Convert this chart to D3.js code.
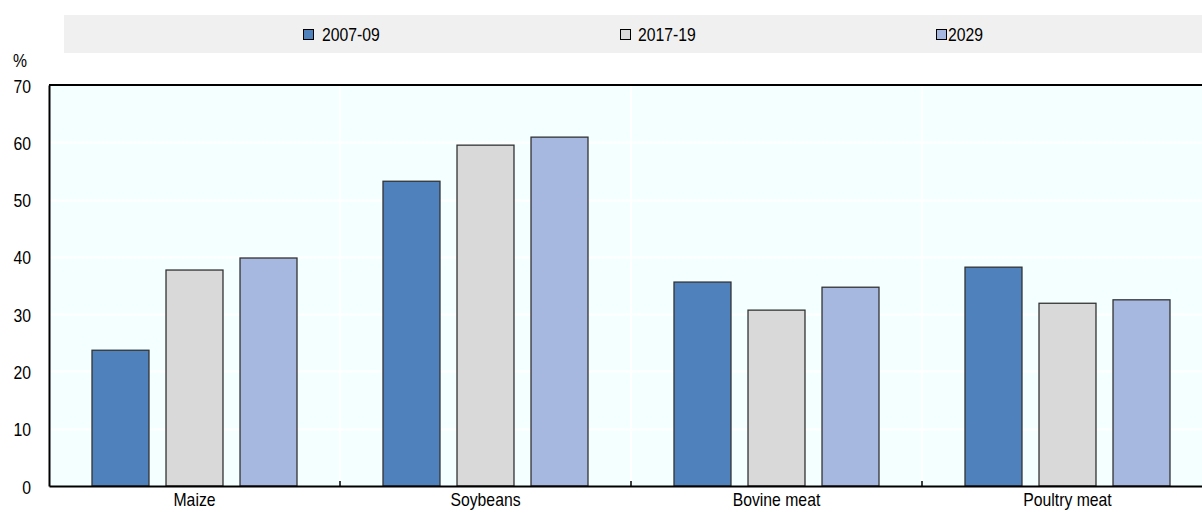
<!DOCTYPE html>
<html lang="en">
<head>
  <meta charset="UTF-8">
  <title>Shares by commodity</title>
  <script src="https://d3js.org/d3.v7.min.js"></script>
  <style>
    body { margin: 0; background: #fff; }
    text { font-family: "Liberation Sans", Arial, sans-serif; fill: #000; font-size: 19px; }
  </style>
</head>
<body>
<div id="chart"></div>
<script>
  // Data
  const categories = ['Maize', 'Soybeans', 'Bovine meat', 'Poultry meat'];
  const seriesNames = ['2007-09', '2017-19', '2029'];
  const v2007 = [23.7, 53.2, 35.6, 38.2];
  const v2017 = [37.7, 59.5, 30.7, 31.9];
  const v2029 = [39.8, 60.9, 34.7, 32.5];
  const yTicks = [0, 10, 20, 30, 40, 50, 60, 70];

  const colors = ['#4f81bd', '#d9d9d9', '#a7b8e0'];
  const values = [v2007, v2017, v2029];

  // narrow font is not installed, so squeeze the regular one
  const SX = 0.83;
  function narrow(sel, x, y) {
    sel.attr('x', 0).attr('y', 0)
      .attr('transform', `translate(${x},${y}) scale(${SX},1)`);
  }

  const W = 1202, H = 513;
  const margin = { top: 85, right: -11, bottom: 27, left: 49 };
  const width = W - margin.left - margin.right;
  const height = H - margin.top - margin.bottom;

  const svg = d3.select('#chart').append('svg')
    .attr('width', W).attr('height', H);

  // Legend band
  svg.append('rect')
    .attr('x', 64).attr('y', 15).attr('width', W - 64).attr('height', 38)
    .attr('fill', '#f0f0f0');
  const legendX = [303, 620, 936];
  const legendTextX = [322, 638, 948];
  seriesNames.forEach((s, i) => {
    svg.append('rect')
      .attr('x', legendX[i] + 0.5).attr('y', 29.5).attr('width', 10).attr('height', 10)
      .attr('fill', colors[i]).attr('stroke', '#000').attr('stroke-width', 1);
    svg.append('text').text(s).call(narrow, legendTextX[i], 41);
  });

  const g = svg.append('g')
    .attr('transform', `translate(${margin.left},${margin.top})`);

  const x0 = d3.scaleBand().domain(categories).range([0, width]).paddingInner(0).paddingOuter(0);
  const x1 = d3.scaleBand().domain(seriesNames).range([43, x0.bandwidth() - 43]).paddingInner(0.23);
  const y = d3.scaleLinear().domain([0, 70]).range([height, 0]);

  // Plot background
  g.append('rect')
    .attr('width', width).attr('height', height)
    .attr('fill', '#f4ffff');

  // Horizontal gridlines
  g.selectAll('.hgrid').data(yTicks.slice(1, -1)).enter().append('line')
    .attr('x1', 0).attr('x2', width)
    .attr('y1', d => Math.round(y(d)) + 0.5).attr('y2', d => Math.round(y(d)) + 0.5)
    .attr('stroke', '#fff').attr('stroke-width', 2);

  // Vertical gridlines at category boundaries
  g.selectAll('.vgrid').data(categories.slice(1)).enter().append('line')
    .attr('x1', d => x0(d)).attr('x2', d => x0(d))
    .attr('y1', 0).attr('y2', height)
    .attr('stroke', '#fff').attr('stroke-width', 2);

  // Bars
  const groups = g.selectAll('.cat').data(categories).enter().append('g')
    .attr('transform', d => `translate(${x0(d)},0)`);
  groups.selectAll('rect')
    .data((d, ci) => seriesNames.map((s, si) => ({ s, si, v: values[si][ci] })))
    .enter().append('rect')
    .attr('x', d => x1(d.s))
    .attr('y', d => y(d.v))
    .attr('width', x1.bandwidth())
    .attr('height', d => height - y(d.v))
    .attr('fill', d => colors[d.si])
    .attr('stroke', '#333').attr('stroke-width', 1.3);

  // Top border
  g.append('line')
    .attr('x1', 0).attr('x2', width).attr('y1', 0).attr('y2', 0)
    .attr('stroke', '#000').attr('stroke-width', 2);

  // Y axis
  const yAxis = g.append('g')
    .call(d3.axisLeft(y).tickValues(yTicks).tickSize(0));
  yAxis.select('.domain').attr('stroke', '#000').attr('stroke-width', 2);
  yAxis.selectAll('text').attr('dy', null).call(narrow, -18, 7);

  svg.append('text').text('%').call(narrow, 13, 67);

  // X axis
  const xAxis = g.append('g')
    .attr('transform', `translate(0,${height})`)
    .call(d3.axisBottom(x0).tickSize(0));
  xAxis.select('.domain').attr('stroke', '#000').attr('stroke-width', 2);
  xAxis.selectAll('text').attr('dy', null).call(narrow, 0, 20);

  // Small inward ticks at category boundaries
  g.selectAll('.btick').data(categories.slice(1)).enter().append('line')
    .attr('x1', d => x0(d)).attr('x2', d => x0(d))
    .attr('y1', height).attr('y2', height - 5)
    .attr('stroke', '#000').attr('stroke-width', 1.5);
</script>
</body>
</html>
